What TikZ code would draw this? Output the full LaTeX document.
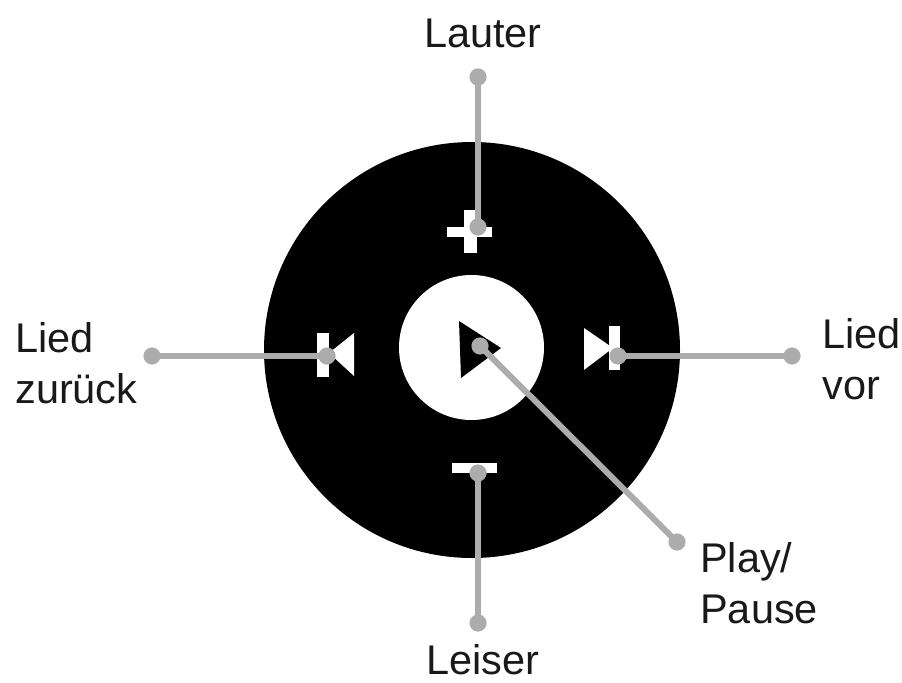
\documentclass[tikz,border=0pt]{standalone}
\usepackage{fontspec}
\setmainfont{Liberation Sans}
\definecolor{pingrey}{RGB}{172,172,172}
\tikzset{
  pindot/.style={circle, fill=pingrey, inner sep=0pt, minimum size=0.43cm},
  pinline/.style={draw=pingrey, line width=1.5mm},
  pinlabel/.style={font=\fontsize{29.5}{36}\selectfont, align=left, inner sep=0pt, text=black!90}
}
\begin{document}
\begin{tikzpicture}[x=0.025cm, y=-0.025cm]
  \useasboundingbox (0,0) rectangle (902,683);
  % button body
  \fill[black] (472,350) circle (208);
  \fill[white] (471.5,347.5) circle (72.5);
  % icons
  \fill[black] (459,321) -- (501,348) -- (461,378) -- cycle;
  \fill[white] (447,227) rectangle (492,237);
  \fill[white] (464,210) rectangle (477,253);
  \fill[white] (452,463) rectangle (497,473);
  \fill[white] (317,333) rectangle (329,377);
  \fill[white] (354,333) -- (354,376) -- (329,353) -- cycle;
  \fill[white] (609,326) rectangle (620,370);
  \fill[white] (584,328) -- (584,370) -- (613,348) -- cycle;
  % pins
  \node[pindot] (upend) at (478,77) {};
  \node[pindot] (upbtn) at (478,227) {};
  \node[pindot] (downend) at (478,623) {};
  \node[pindot] (downbtn) at (478,473) {};
  \node[pindot] (backend) at (152,356) {};
  \node[pindot] (backbtn) at (327,356) {};
  \node[pindot] (nextend) at (792,356) {};
  \node[pindot] (nextbtn) at (618,356) {};
  \node[pindot] (playend) at (677,542) {};
  \node[pindot] (playbtn) at (480,346) {};
  \draw[pinline] (upend.center) -- (upbtn.center);
  \draw[pinline] (downend.center) -- (downbtn.center);
  \draw[pinline] (backend.center) -- (backbtn.center);
  \draw[pinline] (nextend.center) -- (nextbtn.center);
  \draw[pinline] (playend.center) -- (playbtn.center);
  % labels
  \node[pinlabel] (lauter) at (483,33) {Lauter};
  \node[pinlabel] (leiser) at (483,660) {Leiser};
  \node[pinlabel, anchor=west] (zurueck) at (15,363) {Lied\\zurück};
  \node[pinlabel, anchor=west] (vor) at (822,359) {Lied\\vor};
  \node[pinlabel, anchor=west] (play) at (700,583) {Play/\\Pause};
\end{tikzpicture}
\end{document}
